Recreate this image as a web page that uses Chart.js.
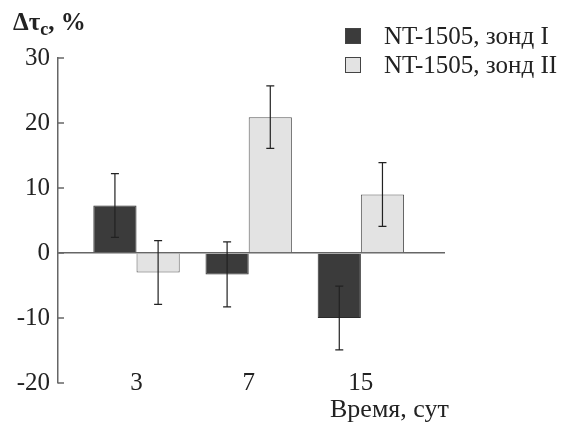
<!DOCTYPE html>
<html>
<head>
<meta charset="utf-8">
<script src="https://cdn.jsdelivr.net/npm/chart.js@4.4.1/dist/chart.umd.min.js"></script>
<style>
  html, body { margin:0; padding:0; background:#fff; }
  #wrap { position:relative; width:567px; height:428px; font-family:"Liberation Serif", serif; color:#222; }
  #chart { position:absolute; left:0; top:0; }
  .ytitle { position:absolute; left:13px; top:8px; font-size:25px; font-weight:bold; }
  .ytitle sub { font-size:18px; vertical-align:-5px; }
  .xtitle { position:absolute; left:330px; top:394px; font-size:26px; }
  .legend { position:absolute; left:345px; top:21px; font-size:25px; }
  .legend div { height:29px; display:flex; align-items:center; }
  .legend span.box { display:inline-block; width:14px; height:14px; margin-right:23px; border:1px solid #444; }
</style>
</head>
<body>
<div id="wrap">
  <canvas id="chart" width="567" height="428"></canvas>
  <div class="ytitle">&Delta;&tau;<sub>c</sub>, %</div>
  <div class="xtitle">Время, сут</div>
  <div class="legend" id="legend"></div>
</div>
<script>
// данные
const days = ['3', '7', '15'];
const seriesNames = ['NT-1505, зонд I', 'NT-1505, зонд II'];
const probe1 = [7.3, -3.3, -10.0];
const probe1Err = [4.9, 5.0, 4.9];
const probe2 = [-3.0, 20.9, 9.0];
const probe2Err = [4.9, 4.8, 4.9];
const yTicks = [30, 20, 10, 0, -10, -20];

const fills = ['#3b3b3b', '#e3e3e3'];
const borders = ['#2a2a2a', '#555'];

const legend = document.getElementById('legend');
seriesNames.forEach((n, i) => {
  const row = document.createElement('div');
  row.innerHTML = `<span class="box" style="background:${fills[i]}"></span>${n}`;
  legend.appendChild(row);
});

// усы погрешностей и внутренние засечки оси Y
const extras = {
  id:'extras',
  afterDatasetsDraw(chart){
    const ctx = chart.ctx;
    const y = chart.scales.y;
    const errs = [probe1Err, probe2Err];
    ctx.save();
    ctx.strokeStyle = '#222';
    ctx.lineWidth = 1.2;
    chart.data.datasets.forEach((ds, di) => {
      chart.getDatasetMeta(di).data.forEach((bar, i) => {
        const v = ds.data[i].y, e = errs[di][i];
        const top = y.getPixelForValue(v + e), bot = y.getPixelForValue(v - e);
        ctx.beginPath();
        ctx.moveTo(bar.x, top); ctx.lineTo(bar.x, bot);
        ctx.moveTo(bar.x - 4, top); ctx.lineTo(bar.x + 4, top);
        ctx.moveTo(bar.x - 4, bot); ctx.lineTo(bar.x + 4, bot);
        ctx.stroke();
      });
    });
    ctx.strokeStyle = '#666';
    ctx.lineWidth = 1.5;
    yTicks.forEach(t => {
      const py = y.getPixelForValue(t);
      ctx.beginPath();
      ctx.moveTo(y.right, py); ctx.lineTo(y.right + 6, py);
      ctx.stroke();
    });
    ctx.restore();
  }
};

new Chart(document.getElementById('chart'), {
  type:'bar',
  data:{
    datasets:[
      {
        label:seriesNames[0],
        data:probe1.map((v, i) => ({ x:i + 1, y:v })),
        backgroundColor:fills[0],
        borderColor:borders[0],
        borderWidth:1
      },
      {
        label:seriesNames[1],
        data:probe2.map((v, i) => ({ x:i + 1, y:v })),
        backgroundColor:fills[1],
        borderColor:borders[1],
        borderWidth:1
      }
    ]
  },
  plugins:[extras],
  options:{
    responsive:false,
    animation:false,
    categoryPercentage:0.77,
    barPercentage:1,
    layout:{ padding:{ top:58, right:122, bottom:0, left:0 } },
    plugins:{ legend:{ display:false }, tooltip:{ enabled:false } },
    scales:{
      x:{
        type:'linear',
        offset:false,
        min:0.3,
        max:3.75,
        grid:{ display:false, offset:false },
        border:{ display:false },
        afterBuildTicks:(s) => { s.ticks = days.map((d, i) => ({ value:i + 1 })); },
        afterFit:(s) => { s.height = 45; },
        ticks:{
          mirror:true,
          padding:-15,
          autoSkip:false,
          maxRotation:0,
          color:'#222',
          font:{ family:'Liberation Serif', size:25 },
          callback:(v) => days[v - 1] ?? ''
        }
      },
      y:{
        min:-20,
        max:30,
        afterBuildTicks:(s) => { s.ticks = yTicks.map(v => ({ value:v })); },
        afterFit:(s) => { s.width = 58; },
        border:{ display:true, color:'#666', width:1.5 },
        grid:{
          drawTicks:false,
          color:(c) => c.tick && c.tick.value === 0 ? '#666' : 'rgba(0,0,0,0)',
          lineWidth:1.5
        },
        ticks:{
          padding:8,
          color:'#222',
          font:{ family:'Liberation Serif', size:25 }
        }
      }
    }
  }
});
</script>
</body>
</html>
